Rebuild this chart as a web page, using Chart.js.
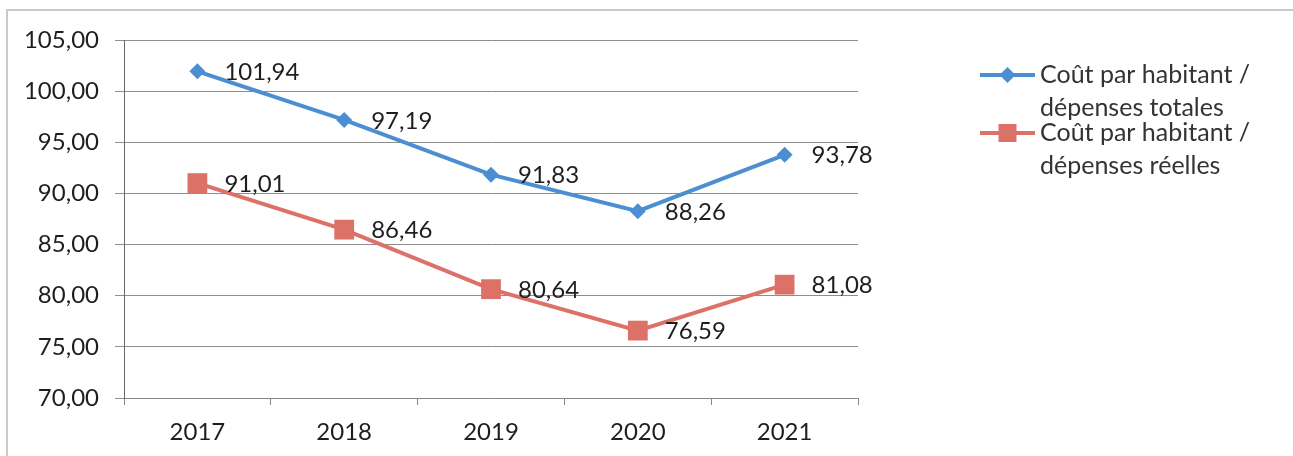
<!DOCTYPE html>
<html>
<head>
<meta charset="utf-8">
<script src="https://cdn.jsdelivr.net/npm/chart.js@4/dist/chart.umd.min.js"></script>
<style>
  html, body { margin: 0; padding: 0; background: #fff; }
  #wrap { position: relative; width: 1293px; height: 456px; }
</style>
</head>
<body>
<div id="wrap"><canvas id="cout" width="1293" height="456"></canvas></div>
<script>
(function () {
    "use strict";

    var years = ['2017', '2018', '2019', '2020', '2021'];
    var depensesTotales = [101.94, 97.19, 91.83, 88.26, 93.78];
    var depensesReelles = [91.01, 86.46, 80.64, 76.59, 81.08];
    var yMin = 70, yMax = 105, yStep = 5;

    var FONT = 'Lato, "Open Sans", sans-serif';
    var BLUE = '#4b8fd2';
    var RED = '#dc7168';

    function virgule(v) {
        return Number(v).toFixed(2).replace('.', ',');
    }

    // Valeurs écrites à droite de chaque point
    var valueLabels = {
        id: 'valueLabels',
        afterDatasetsDraw: function (chart) {
            var ctx = chart.ctx;
            ctx.save();
            ctx.font = '24px ' + FONT;
            ctx.fillStyle = '#1e1e1e';
            ctx.textAlign = 'left';
            ctx.textBaseline = 'middle';
            chart.data.datasets.forEach(function (ds, i) {
                chart.getDatasetMeta(i).data.forEach(function (pt, j) {
                    ctx.fillText(virgule(ds.data[j]), pt.x + 27, pt.y + 1);
                });
            });
            ctx.restore();
        }
    };

    // Cadre gris + légende sur deux lignes à droite
    var frameLegend = {
        id: 'frameLegend',
        beforeDraw: function (chart) {
            var ctx = chart.ctx;
            ctx.save();
            ctx.strokeStyle = '#c9c9c9';
            ctx.lineWidth = 2;
            ctx.beginPath();
            ctx.moveTo(7, chart.height);
            ctx.lineTo(7, 10);
            ctx.lineTo(chart.width, 10);
            ctx.stroke();
            ctx.restore();
        },
        afterDraw: function (chart) {
            var ctx = chart.ctx;
            var x0 = 980, x1 = 1035, tx = 1040;
            var top = [75, 133];
            ctx.save();
            chart.data.datasets.forEach(function (ds, i) {
                var y = top[i];
                ctx.strokeStyle = ds.borderColor;
                ctx.lineWidth = 4;
                ctx.beginPath();
                ctx.moveTo(x0, y);
                ctx.lineTo(x1, y);
                ctx.stroke();
                ctx.fillStyle = ds.borderColor;
                var mx = (x0 + x1) / 2;
                if (ds.pointStyle === 'rectRot') {
                    ctx.beginPath();
                    ctx.moveTo(mx, y - 8);
                    ctx.lineTo(mx + 8, y);
                    ctx.lineTo(mx, y + 8);
                    ctx.lineTo(mx - 8, y);
                    ctx.closePath();
                    ctx.fill();
                } else {
                    ctx.fillRect(mx - 9, y - 9, 18, 18);
                }
                ctx.fillStyle = '#333';
                ctx.font = '25px ' + FONT;
                ctx.textAlign = 'left';
                ctx.textBaseline = 'middle';
                ds.label.forEach(function (line, k) {
                    ctx.fillText(line, tx, y + k * 33);
                });
            });
            ctx.restore();
        }
    };

    new Chart(document.getElementById('cout'), {
        type: 'line',
        data: {
            labels: years,
            datasets: [{
                label: ['Coût par habitant /', 'dépenses totales'],
                data: depensesTotales,
                borderColor: BLUE,
                backgroundColor: BLUE,
                borderWidth: 4,
                pointStyle: 'rectRot',
                pointRadius: 8,
                pointBorderWidth: 0,
                pointBackgroundColor: BLUE,
                tension: 0
            }, {
                label: ['Coût par habitant /', 'dépenses réelles'],
                data: depensesReelles,
                borderColor: RED,
                backgroundColor: RED,
                borderWidth: 4,
                pointStyle: 'rect',
                pointRadius: 14,
                pointBorderWidth: 0,
                pointBackgroundColor: RED,
                tension: 0
            }]
        },
        options: {
            responsive: false,
            animation: false,
            devicePixelRatio: 1,
            layout: { padding: { top: 40, right: 435, left: 0, bottom: 0 } },
            plugins: {
                legend: { display: false },
                tooltip: { enabled: false }
            },
            scales: {
                x: {
                    offset: true,
                    grid: {
                        offset: true,
                        drawOnChartArea: false,
                        drawTicks: true,
                        tickLength: 7,
                        color: '#888'
                    },
                    border: { display: true, color: '#888', width: 1 },
                    ticks: {
                        color: '#1e1e1e',
                        font: { family: FONT, size: 24 },
                        padding: 13
                    },
                    afterFit: function (scale) { scale.height = 58; }
                },
                y: {
                    min: yMin,
                    max: yMax,
                    grid: { color: '#8e8e8e', tickLength: 9 },
                    border: { display: true, color: '#666', width: 1 },
                    ticks: {
                        stepSize: yStep,
                        color: '#1e1e1e',
                        font: { family: FONT, size: 24 },
                        padding: 16,
                        callback: function (v) { return virgule(v); }
                    },
                    afterFit: function (scale) { scale.width = 124; }
                }
            }
        },
        plugins: [frameLegend, valueLabels]
    });
})();
</script>
</body>
</html>
